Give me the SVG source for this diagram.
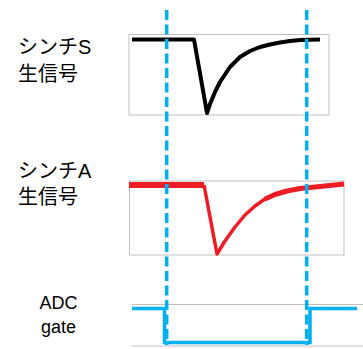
<svg xmlns="http://www.w3.org/2000/svg" width="363" height="349" viewBox="0 0 363 349">
<style>
.frame{fill:none;stroke:#BFBFBF;stroke-width:1}
.lbl{font-family:"Liberation Sans","Noto Sans CJK JP",sans-serif;font-size:20px;fill:#000}
.lbl2{font-family:"Liberation Sans","Noto Sans CJK JP",sans-serif;font-size:18px;fill:#000}
.blk{fill:none;stroke:#000;stroke-width:4;stroke-linejoin:round}
.red{fill:none;stroke:#EE1C25;stroke-linejoin:round}
.gate{fill:none;stroke:#00B0F0;stroke-width:3.5;stroke-linejoin:miter}
.dash{fill:none;stroke:#00B0F0;stroke-width:3.5;stroke-dasharray:10 4.5}
</style>
<rect width="363" height="349" fill="#fff"/>
<g id="signal-s">
<rect class="frame" x="129" y="34.5" width="200" height="80.5"/>
<text class="lbl" x="18" y="54">シンチS</text>
<text class="lbl" x="18" y="81">生信号</text>
<path class="blk" d="M132,39.5 L194,39.5 L207,113 L210,104 L215,92 L220,82 L230,67 L240,57 L250,51 L260,47 L270,44.5 L280,42.5 L290,41 L300,40 L320,39.5"/>
</g>
<g id="signal-a">
<rect class="frame" x="129.5" y="181" width="214.5" height="74"/>
<text class="lbl" x="18" y="178">シンチA</text>
<text class="lbl" x="18" y="204">生信号</text>
<path class="red" stroke-width="6" d="M129,185 L204,185"/>
<path class="red" stroke-width="3.5" d="M204,185 L217,254 L225,241 L235,227 L245,215 L255,206 L265,199 L275,194.5"/>
<path class="red" stroke-width="5" d="M265,199 L275,194.5 L287,191 L300,188.5 L320,186.5 L344,184"/>
</g>
<g id="adc-gate">
<line class="frame" x1="132" y1="304.5" x2="363" y2="304.5"/>
<line class="frame" x1="132" y1="346" x2="363" y2="346"/>
<text class="lbl2" x="58.5" y="309" text-anchor="middle">ADC</text>
<text class="lbl2" x="58.5" y="333" text-anchor="middle">gate</text>
<path class="gate" d="M132,308.5 L164.5,308.5 L164.5,342.5 L310,342.5 L310,308.5 L357,308.5"/>
</g>
<g id="connectors">
<line class="dash" x1="166.7" y1="10" x2="166.7" y2="345"/>
<line class="dash" x1="306.7" y1="10" x2="306.7" y2="345"/>
</g>
</svg>
